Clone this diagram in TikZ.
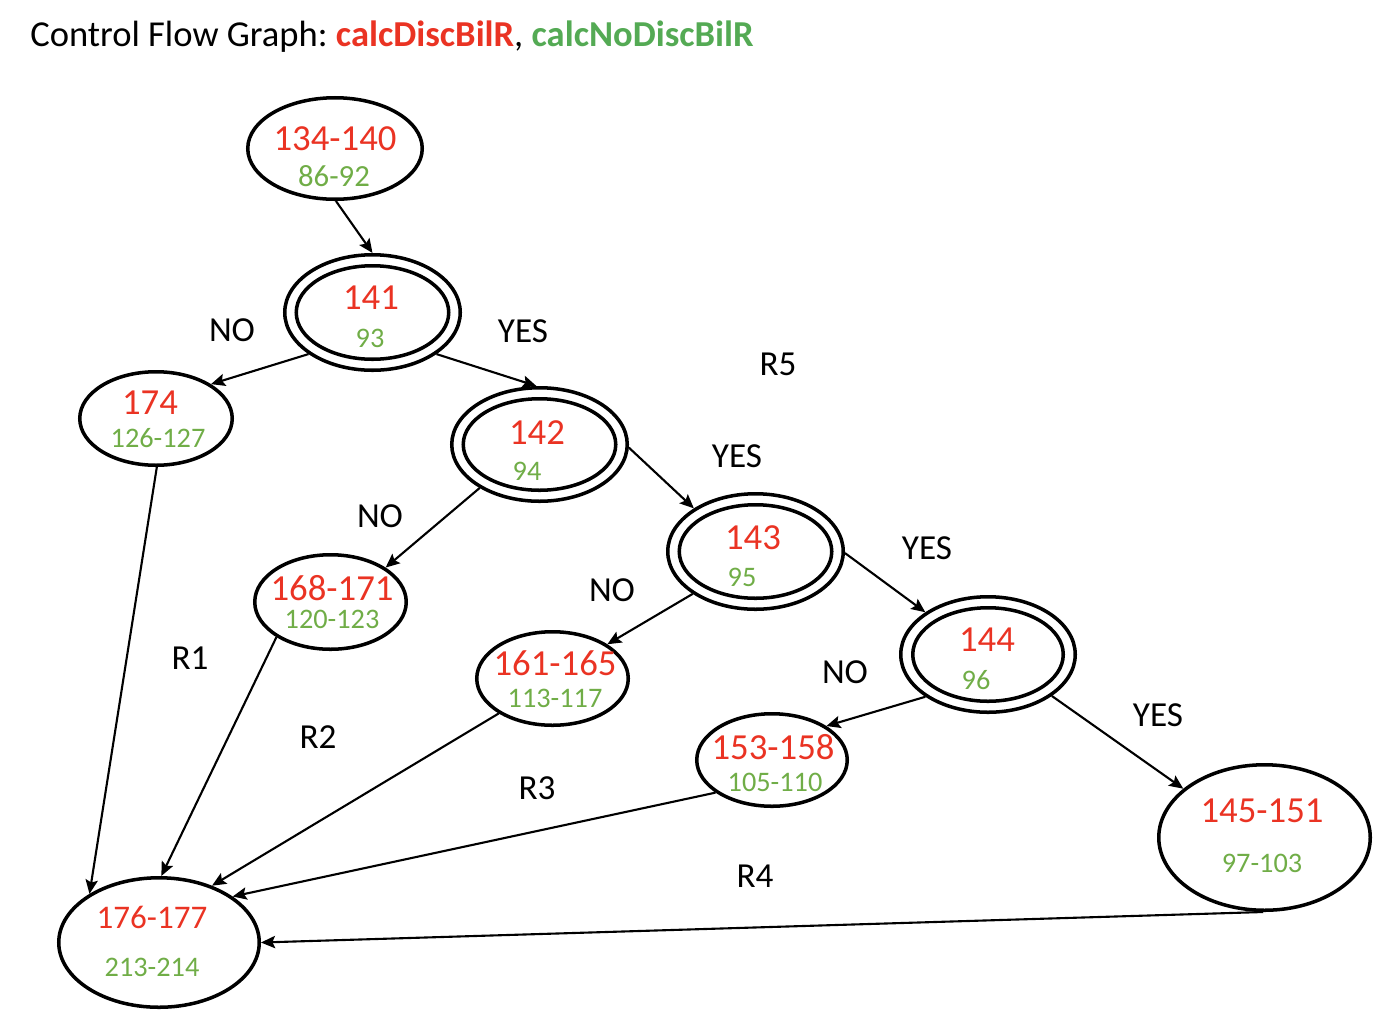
\documentclass[tikz,border=0pt]{standalone}
\usepackage{fontspec}
\setmainfont{Carlito}
\usetikzlibrary{shapes.geometric,arrows.meta}
\definecolor{cred}{RGB}{234,51,35}
\definecolor{cgreen}{RGB}{112,173,71}
\definecolor{tgreen}{RGB}{84,170,84}
\tikzset{
  ell/.style 2 args={ellipse, draw, line width=2pt, inner sep=0pt,
    minimum width=#1*0.02cm, minimum height=#2*0.02cm},
  redtxt/.style={text=cred, inner sep=0pt, font=\fontsize{20.9pt}{24pt}\selectfont},
  greentxt/.style={text=cgreen, inner sep=0pt, font=\fontsize{16.1pt}{19pt}\selectfont},
  lbl/.style={inner sep=0pt, font=\fontsize{20pt}{24pt}\selectfont},
  edge/.style={line width=1.2pt, -{Stealth[length=8pt,width=7pt,inset=1.5pt]}},
}
\frenchspacing
\begin{document}
\begin{tikzpicture}[x=0.02cm,y=-0.02cm]
\useasboundingbox (0,0) rectangle (1382,1032);
% title
\node[anchor=base west, inner sep=0pt, font=\fontsize{20.8pt}{24pt}\selectfont] (title) at (30,46)
  {Control Flow Graph: \textcolor{cred}{\bfseries calcDiscBilR}, \textcolor{tgreen}{\bfseries calcNoDiscBilR}};
% nodes
\node[ell={174.5}{101.5}] (n1) at (335,148.5) {};
\node[ell={175.5}{115.5}] (n2) at (372.5,312.5) {};
\node[ell={152.5}{93.5}] (n2i) at (372.5,312.5) {};
\node[ell={175.5}{113.5}] (n3) at (539.5,444.5) {};
\node[ell={152.5}{91.5}] (n3i) at (539.5,444.5) {};
\node[ell={152.5}{93.5}] (n4) at (156,418.5) {};
\node[ell={175.5}{115.5}] (n5) at (755.5,551.5) {};
\node[ell={152.5}{93.5}] (n5i) at (755.5,551.5) {};
\node[ell={151.5}{94.5}] (n6) at (330.5,602) {};
\node[ell={174.5}{115.5}] (n7) at (988,654.5) {};
\node[ell={150.5}{93.5}] (n7i) at (988,654.5) {};
\node[ell={151.5}{93.5}] (n8) at (552.5,678.5) {};
\node[ell={150.5}{92.5}] (n9) at (772,760) {};
\node[ell={211.5}{145.5}] (n10) at (1264.5,837.5) {};
\node[ell={200.5}{129.5}] (n11) at (159,942.5) {};
% texts
\node[redtxt] (n1r) at (335,139) {134-140};
\node[greentxt, font=\fontsize{17.5pt}{20pt}\selectfont] (n1g) at (334,176) {86-92};
\node[redtxt] (n2r) at (371,298) {141};
\node[greentxt] (n2g) at (370,338) {93};
\node[redtxt] (n3r) at (537,433) {142};
\node[greentxt] (n3g) at (527,471) {94};
\node[redtxt] (n4r) at (150,403) {174};
\node[greentxt] (n4g) at (158,438) {126-127};
\node[redtxt] (n5r) at (753,538) {143};
\node[greentxt] (n5g) at (742,577) {95};
\node[redtxt] (n6r) at (332,588) {168-171};
\node[greentxt] (n6g) at (332,619) {120-123};
\node[redtxt] (n7r) at (987,640) {144};
\node[greentxt] (n7g) at (976,680) {96};
\node[redtxt] (n8r) at (555,663) {161-165};
\node[greentxt] (n8g) at (555,698) {113-117};
\node[redtxt] (n9r) at (773,747) {153-158};
\node[greentxt] (n9g) at (775,782) {105-110};
\node[redtxt] (n10r) at (1262,811) {145-151};
\node[greentxt] (n10g) at (1262,863) {97-103};
\node[redtxt, font=\fontsize{18.8pt}{22pt}\selectfont] (n11r) at (152,917) {176-177};
\node[greentxt] (n11g) at (152,967) {213-214};
% labels
\node[lbl] (l1) at (232,330) {NO};
\node[lbl] (l2) at (523,331) {YES};
\node[lbl] (l3) at (778,364) {R5};
\node[lbl] (l4) at (737,456) {YES};
\node[lbl] (l5) at (380,516) {NO};
\node[lbl] (l6) at (927,548) {YES};
\node[lbl] (l7) at (612,590) {NO};
\node[lbl] (l8) at (845,672) {NO};
\node[lbl] (l9) at (1158,715) {YES};
\node[lbl] (l10) at (190,658) {R1};
\node[lbl] (l11) at (318,737) {R2};
\node[lbl] (l12) at (537,788) {R3};
\node[lbl] (l13) at (755,876) {R4};
% edges
\draw[edge] (n1.271) -- (n2.90);
\draw[edge] (n2.213) -- (n4.32);
\draw[edge] (n2.327) -- (n3.93);
\draw[edge] (n3.216) -- (n6.32);
\draw[edge] (n3.358) -- (n5.145);
\draw[edge] (n5.214) -- (n8.32);
\draw[edge] (n5.359) -- (n7.146);
\draw[edge] (n7.214) -- (n9.32);
\draw[edge] (n7.327) -- (n10.149);
\draw[edge] (n4.271) -- (n11.145);
\draw[edge] (n6.213) -- (n11.88);
\draw[edge] (n8.213) -- (n11.47);
\draw[edge] (n9.210) -- (n11.32);
\draw[edge] (n10.269) -- (n11.0);
\end{tikzpicture}
\end{document}
